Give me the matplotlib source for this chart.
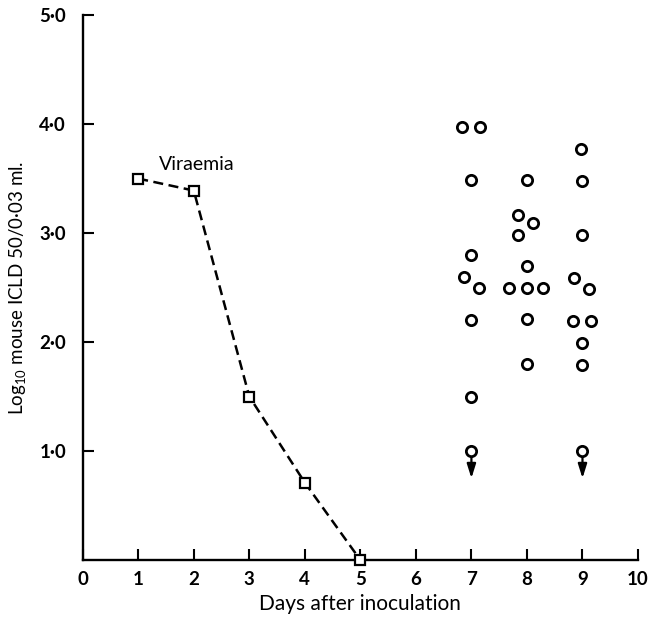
import numpy as np
import matplotlib
matplotlib.use("Agg")
import matplotlib.pyplot as plt

plt.rcParams['font.family'] = ['Lato', 'DejaVu Sans']
plt.rcParams['mathtext.default'] = 'regular'

# Viraemia curve
vir_days = [1, 2, 3, 4, 5]
vir_titre = [3.5, 3.39, 1.5, 0.71, 0.0]

# individual titres (day positions are spread a bit around 7, 8, 9)
d7_x = [6.83, 7.16, 7.0, 7.0, 6.86, 7.14, 7.0, 7.0, 7.0]
d7_y = [3.97, 3.97, 3.49, 2.80, 2.60, 2.50, 2.20, 1.50, 1.00]
d8_x = [8.0, 7.84, 8.11, 7.84, 8.0, 7.67, 8.0, 8.29, 8.0, 8.0]
d8_y = [3.49, 3.17, 3.09, 2.98, 2.70, 2.50, 2.50, 2.50, 2.21, 1.80]
d9_x = [8.98, 8.99, 9.0, 8.85, 9.12, 8.83, 9.15, 9.0, 9.0, 9.0]
d9_y = [3.77, 3.48, 2.98, 2.59, 2.49, 2.19, 2.19, 1.99, 1.79, 1.00]

# titres below detection limit (arrow down)
below_x = [7, 9]
below_y = [1.0, 1.0]

fig = plt.figure(figsize=(6.48, 6.22), dpi=100)
ax = fig.add_axes([0.1276, 0.0997, 0.857, 0.876])

ax.plot(vir_days, vir_titre, color='black', lw=1.8, ls=(0, (4, 2.2)),
        marker='s', ms=7.5, mfc='white', mec='black', mew=1.6,
        clip_on=False, zorder=5)
ax.text(1.37, 3.63, "Viraemia", fontsize=14, ha='left', va='center')

for xs, ys in [(d7_x, d7_y), (d8_x, d8_y), (d9_x, d9_y)]:
    ax.plot(xs, ys, ls='none', marker='o', ms=7.4, mfc='white',
            mec='black', mew=2.0, zorder=4)

for bx, by in zip(below_x, below_y):
    ax.annotate('', xy=(bx, by - 0.25), xytext=(bx, by - 0.04),
                arrowprops=dict(arrowstyle='-|>,head_length=0.7,head_width=0.22',
                                color='black', lw=1.6,
                                mutation_scale=12, shrinkA=0, shrinkB=0))

ax.set_xlim(0, 10)
ax.set_ylim(0, 5)
ax.spines['top'].set_visible(False)
ax.spines['right'].set_visible(False)
ax.spines['left'].set_linewidth(1.7)
ax.spines['bottom'].set_linewidth(1.7)

ax.set_xticks(range(0, 11))
ax.set_xticklabels([str(i) for i in range(0, 11)])
ax.set_yticks([1, 2, 3, 4, 5])
ax.set_yticklabels(["1·0", "2·0", "3·0", "4·0", "5·0"])
ax.tick_params(direction='in', length=8, width=1.5, labelsize=13.5)
ax.tick_params(axis='x', pad=8)
ax.tick_params(axis='y', pad=12)
for lab in ax.get_xticklabels() + ax.get_yticklabels():
    lab.set_fontweight('bold')

ax.set_xlabel("Days after inoculation", fontsize=15, labelpad=4)
ax.set_ylabel("Log$_{10}$ mouse ICLD 50/0·03 ml.", fontsize=13.5, labelpad=8)

fig.savefig("out.png", dpi=100)
